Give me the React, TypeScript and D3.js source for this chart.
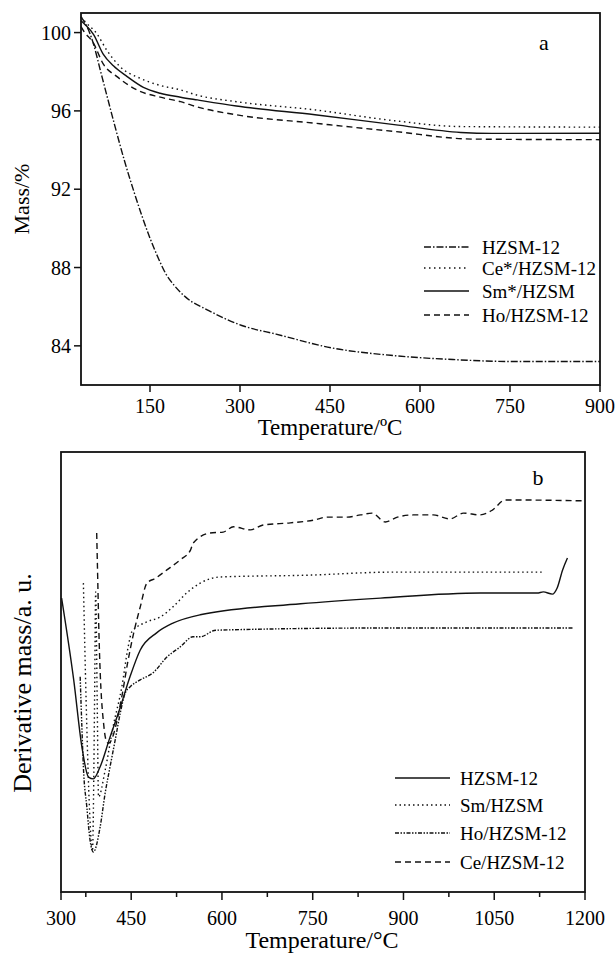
import React from "react";
import * as d3 from "d3";

// TG panel (a): [temperature °C, mass %]
const tgHzsm12: [number, number][] = [
  [35, 100.8], [45, 100.3], [56, 99.4], [67, 98.1], [78, 96.8], [90, 95.4], [107, 93.5],
  [124, 91.8], [137, 90.6], [150, 89.5], [165, 88.4], [176, 87.7], [190, 87.1], [209, 86.5],
  [248, 85.8], [307, 85.0], [360, 84.6], [452, 83.9], [557, 83.5], [655, 83.3], [754, 83.2],
  [900, 83.2]
];
const tgCe: [number, number][] = [
  [35, 100.8], [42, 100.55], [61, 99.96], [78, 99.1], [100, 98.26], [134, 97.66], [167, 97.3],
  [201, 97.07], [229, 96.8], [294, 96.47], [425, 96.05], [557, 95.5], [668, 95.2], [900, 95.17]
];
const tgSm: [number, number][] = [
  [35, 100.6], [42, 100.4], [56, 99.9], [72, 98.9], [89, 98.3], [112, 97.75], [139, 97.2],
  [167, 96.9], [201, 96.7], [229, 96.56], [294, 96.25], [425, 95.8], [557, 95.3], [668, 94.9],
  [720, 94.85], [900, 94.86]
];
const tgHo: [number, number][] = [
  [35, 100.3], [39, 100.1], [56, 99.45], [72, 98.4], [95, 97.75], [128, 97.07], [167, 96.7],
  [201, 96.47], [229, 96.2], [294, 95.8], [425, 95.37], [557, 94.95], [688, 94.56], [900, 94.53]
];
const tgMassTicks = [84, 88, 92, 96, 100];
const tgTempTicks = [150, 300, 450, 600, 750, 900];

// DTG panel (b): [temperature °C, derivative mass a.u.]
const dtgHzsm12: [number, number][] = [
  [335, 66.8], [355, 48.2], [368.5, 33.0], [379.5, 26.1], [387.5, 25.7], [398.5, 28.4],
  [415, 35.2], [432, 42.0], [448, 48.9], [465, 55.0], [492, 58.9], [519, 61.1], [564, 63.0],
  [730, 65.5], [862, 66.8], [1027, 67.95], [1121, 67.95], [1131, 68.2], [1146, 67.7],
  [1154, 69.1], [1163, 73.2], [1171, 75.9]
];
const dtgSm: [number, number][] = [
  [371, 70.2], [375.5, 43.6], [380.5, 20.9], [386, 9.3], [389.5, 43.6], [391.3, 68.2],
  [393.8, 43.6], [396, 21.6], [407, 27.7], [420, 37.5], [434.5, 46.6], [445, 55.7],
  [451, 59.1], [476, 61.4], [498, 62.5], [519, 64.8], [542, 68.0], [564, 70.2], [597, 71.6],
  [741, 72.0], [883, 72.7], [1130, 72.7]
];
const dtgHo: [number, number][] = [
  [365.7, 48.9], [368.5, 37.5], [371, 28.4], [376.7, 19.3], [382, 11.8], [387.5, 9.1],
  [398.7, 14.8], [407, 22.5], [415, 28.4], [423.5, 34.5], [432, 40.7], [440, 45.2],
  [448, 46.6], [465, 48.2], [486, 49.8], [509, 53.4], [531, 55.7], [552, 58.0], [564, 58.0],
  [590, 59.5], [862, 60.0], [1181, 60.0]
];
const dtgCe: [number, number][] = [
  [393, 81.6], [394, 75.5], [397, 57.3], [405, 37.5], [408.5, 34.5], [412.5, 33.8],
  [434.5, 44.4], [444, 52.0], [454, 58.8], [465, 64.8], [476, 70.2], [490, 71.3], [509, 73.2],
  [531, 75.5], [548, 77.7], [552.5, 79.3], [580.5, 81.6], [602, 81.8], [619, 83.0],
  [647, 82.3], [668, 83.4], [713, 83.9], [751, 84.5], [774, 85.2], [807, 85.2], [829, 85.7],
  [848, 86.1], [870, 84.1], [890, 85.2], [916, 85.7], [949, 85.7], [977, 84.8], [999, 86.1],
  [1027, 85.7], [1047, 86.8], [1068, 89.1], [1082, 89.1], [1197, 88.9]
];
const dtgStart = 334;
const dtgMajorTicks = [dtgStart, 450, 600, 750, 900, 1050, 1200];
const dtgMajorLabels = ["300", "450", "600", "750", "900", "1050", "1200"];
const dtgMinorTicks = [375, 525, 675, 825, 975, 1125];

const serif = "'Liberation Serif', 'Times New Roman', serif";

type Series = { name: string; data: [number, number][]; dash: string };

const tgSeries: Series[] = [
  { name: "HZSM-12", data: tgHzsm12, dash: "7,2,1.5,2" },
  { name: "Ce*/HZSM-12", data: tgCe, dash: "1.5,3.5" },
  { name: "Sm*/HZSM", data: tgSm, dash: "none" },
  { name: "Ho/HZSM-12", data: tgHo, dash: "6,4" }
];
const dtgSeries: Series[] = [
  { name: "HZSM-12", data: dtgHzsm12, dash: "none" },
  { name: "Sm/HZSM", data: dtgSm, dash: "1.5,3" },
  { name: "Ho/HZSM-12", data: dtgHo, dash: "4,1.5,1.5,1.5,1.5,1.5" },
  { name: "Ce/HZSM-12", data: dtgCe, dash: "6,4" }
];

export default function App() {
  // panel a
  const ax = d3.scaleLinear().domain([35, 900]).range([81, 600]);
  const ay = d3.scaleLinear().domain([82, 101]).range([385, 13]);
  const aLine = d3.line<[number, number]>()
    .x((d) => ax(d[0]))
    .y((d) => ay(d[1]))
    .curve(d3.curveMonotoneX);

  // panel b
  const bx = d3.scaleLinear().domain([dtgStart, 1200]).range([61, 585]);
  const by = d3.scaleLinear().domain([0, 100]).range([892, 452]);
  const bLine = d3.line<[number, number]>()
    .x((d) => bx(d[0]))
    .y((d) => by(d[1]))
    .curve(d3.curveMonotoneX);

  const aLegendY = [247, 268, 291, 315];
  const bLegendY = [778, 805, 833, 862];

  return (
    <svg
      width={616}
      height={953}
      style={{ position: "absolute", left: 0, top: 0, background: "#fff" }}
      fontFamily={serif}
    >
      {/* ---- panel a ---- */}
      <g>
        {tgSeries.map((s) => (
          <path
            key={s.name}
            d={aLine(s.data) || ""}
            fill="none"
            stroke="#111"
            strokeWidth={1.4}
            strokeDasharray={s.dash}
          />
        ))}
        <rect x={81} y={13} width={519} height={372} fill="none" stroke="#111" strokeWidth={1.8} />
        {tgMassTicks.map((t) => (
          <g key={t}>
            <line x1={74} x2={81} y1={ay(t)} y2={ay(t)} stroke="#111" strokeWidth={1.5} />
            <text x={71} y={ay(t)} dy="0.35em" textAnchor="end" fontSize={20}>{t}</text>
          </g>
        ))}
        {tgTempTicks.map((t) => (
          <g key={t}>
            <line x1={ax(t)} x2={ax(t)} y1={385} y2={392} stroke="#111" strokeWidth={1.5} />
            <text x={ax(t)} y={413} textAnchor="middle" fontSize={20}>{t}</text>
          </g>
        ))}
        <text x={330} y={435} textAnchor="middle" fontSize={23}>Temperature/ºC</text>
        <text transform="translate(29,199) rotate(-90)" textAnchor="middle" fontSize={22}>Mass/%</text>
        <text x={544} y={50} textAnchor="middle" fontSize={22}>a</text>
        {tgSeries.map((s, i) => (
          <g key={s.name}>
            <line x1={424} x2={469} y1={aLegendY[i]} y2={aLegendY[i]} stroke="#111" strokeWidth={1.4} strokeDasharray={s.dash} />
            <text x={482} y={aLegendY[i]} dy="0.35em" fontSize={19}>{s.name}</text>
          </g>
        ))}
      </g>

      {/* ---- panel b ---- */}
      <g>
        {dtgSeries.map((s) => (
          <path
            key={s.name}
            d={bLine(s.data) || ""}
            fill="none"
            stroke="#111"
            strokeWidth={1.4}
            strokeDasharray={s.dash}
          />
        ))}
        <rect x={61} y={452} width={524} height={440} fill="none" stroke="#111" strokeWidth={1.8} />
        {dtgMajorTicks.map((t, i) => (
          <g key={t}>
            <line x1={bx(t)} x2={bx(t)} y1={892} y2={900} stroke="#111" strokeWidth={1.5} />
            <text x={bx(t)} y={925} textAnchor="middle" fontSize={20}>{dtgMajorLabels[i]}</text>
          </g>
        ))}
        {dtgMinorTicks.map((t) => (
          <line key={t} x1={bx(t)} x2={bx(t)} y1={892} y2={897} stroke="#111" strokeWidth={1.5} />
        ))}
        <text x={322} y={948} textAnchor="middle" fontSize={24}>Temperature/°C</text>
        <text transform="translate(31,683) rotate(-90)" textAnchor="middle" fontSize={26}>Derivative mass/a. u.</text>
        <text x={538} y={485} textAnchor="middle" fontSize={22}>b</text>
        {dtgSeries.map((s, i) => (
          <g key={s.name}>
            <line x1={395} x2={450} y1={bLegendY[i]} y2={bLegendY[i]} stroke="#111" strokeWidth={1.4} strokeDasharray={s.dash} />
            <text x={460} y={bLegendY[i]} dy="0.35em" fontSize={19}>{s.name}</text>
          </g>
        ))}
      </g>
    </svg>
  );
}
